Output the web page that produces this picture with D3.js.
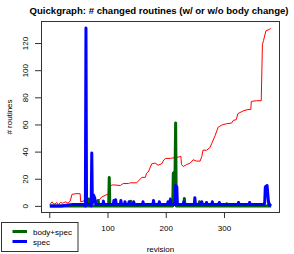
<!DOCTYPE html>
<html>
<head>
<meta charset="utf-8">
<script src="https://cdn.jsdelivr.net/npm/d3@7"></script>
<style>
  html, body { margin: 0; padding: 0; background: #fff; }
  svg { display: block; font-family: "Liberation Sans", Arial, Helvetica, sans-serif; }
</style>
</head>
<body>
<svg id="chart" width="294" height="254"></svg>
<script>
// ---- data ----
const titleText = "Quickgraph: # changed routines (w/ or w/o body change)";
const xLabel = "revision";
const yLabel = "# routines";
const xTicks = [0, 100, 200, 300];
const xTickLabels = ["", "100", "200", "300"]; // "0" is hidden behind the legend in the reference
const yTicks = [0, 20, 40, 60, 80, 100, 120];

// cumulative-like red line
const totalRev = [1, 5, 8, 13, 16, 19, 23, 28, 32, 36, 39, 46, 53, 54, 62, 67, 73, 79, 85, 90, 102, 105, 110, 122, 127, 136, 139, 150, 159, 165, 167, 170, 176, 182, 187, 193, 197, 200, 208, 222, 226, 227, 230, 236, 242, 247, 253, 259, 262, 264, 270, 276, 279, 285, 290, 296, 304, 313, 316, 321, 324, 333, 341, 346, 347, 356, 364, 366, 368, 372, 378, 380];
const totalVal = [1, 3, 1, 2.5, 1, 2.5, 2, 3, 2, 3.5, 8.5, 9, 9, 3, 4, 5.5, 5.5, 4, 4, 6.5, 9, 15, 15.5, 15, 16.5, 16.5, 17, 17, 21, 21, 24, 25, 31, 31.5, 30, 31, 34, 35, 35, 36, 36.5, 30.5, 29, 30.5, 31.5, 34, 33, 33, 36.5, 41, 41, 43, 46, 52, 58, 59.5, 60.5, 61, 63, 63.5, 68, 70, 71, 71, 77, 77.5, 77.5, 119, 122, 129, 130, 131];

// body+spec (green)
const bodyRev = [1, 66, 67, 68, 69, 83, 84, 85, 102, 103, 104, 139, 140, 141, 212, 213, 215, 216, 217, 218, 231, 232, 233, 257, 258, 259, 304, 305, 306, 377, 378, 379, 381];
const bodyVal = [0, 0, 4, 5, 0, 0, 4, 0, 0, 21, 0, 0, 3.5, 0, 0, 24, 25, 25, 61, 0, 0, 5.5, 0, 0, 3, 0, 0, 1.5, 0, 0, 1.5, 0, 0];

// spec (blue)
const specRev = [1, 20, 40, 58, 62, 63, 64, 70, 72, 73, 74, 76, 78, 80, 92, 93, 94, 110, 111, 112, 113, 114, 115, 122, 123, 124, 129, 130, 131, 136, 137, 138, 144, 145, 146, 160, 161, 162, 178, 179, 180, 188, 189, 190, 203, 204, 205, 207, 208, 209, 216, 217, 219, 220, 230, 231, 232, 249, 250, 251, 261, 262, 263, 269, 270, 271, 279, 280, 281, 291, 292, 293, 324, 325, 326, 343, 344, 345, 369, 370, 371, 374, 376, 377, 381];
const specVal = [0, 0, 1, 1, 0, 131, 1, 1, 0, 39, 2, 8, 6, 1, 1, 3.5, 1, 1, 4, 1, 1, 4.5, 1, 1, 4, 1, 1, 3, 1, 1, 3, 1, 1, 3, 1, 1, 3, 1, 1, 4, 1, 1, 3, 1, 1, 3, 1, 1, 5, 1, 1, 15, 14, 1, 1, 3, 1, 1, 6, 1, 1, 3, 1, 1, 2.5, 1, 1, 3, 1, 1, 2.5, 1, 1, 2.5, 1, 1, 2.5, 1, 1, 3, 14, 15, 5, 1, 0];

const legendLabels = ["body+spec", "spec"];
const legendColors = ["#006400", "#0000ff"];

// ---- layout ----
const svg = d3.select("#chart");
const box = { left: 41, right: 280, top: 21, bottom: 213 };

svg.append("rect").attr("width", 294).attr("height", 254).attr("fill", "#fff");

const allRev = totalRev.concat(bodyRev, specRev);
const allVal = totalVal.concat(bodyVal, specVal);
const xMin = d3.min(allRev), xMax = d3.max(allRev);
const yMin = d3.min(allVal), yMax = d3.max(allVal);
const xPad = (xMax - xMin) * 0.04, yPad = (yMax - yMin) * 0.04;

const x = d3.scaleLinear().domain([xMin - xPad, xMax + xPad]).range([box.left, box.right]);
const y = d3.scaleLinear().domain([yMin - yPad, yMax + yPad]).range([box.bottom, box.top]);

const line = d3.line().x(d => x(d[0])).y(d => y(d[1]));

const plot = svg.append("g");
plot.append("path")
  .datum(totalRev.map((r, i) => [r, totalVal[i]]))
  .attr("d", line).attr("fill", "none").attr("stroke", "#ff0000").attr("stroke-width", 1);
plot.append("path")
  .datum(bodyRev.map((r, i) => [r, bodyVal[i]]))
  .attr("d", line).attr("fill", "none").attr("stroke", legendColors[0]).attr("stroke-width", 3)
  .attr("stroke-linejoin", "round");
plot.append("path")
  .datum(specRev.map((r, i) => [r, specVal[i]]))
  .attr("d", line).attr("fill", "none").attr("stroke", legendColors[1]).attr("stroke-width", 3)
  .attr("stroke-linejoin", "round");

// box
svg.append("rect")
  .attr("x", box.left + 0.5).attr("y", box.top + 0.5)
  .attr("width", box.right - box.left - 1).attr("height", box.bottom - box.top - 1)
  .attr("fill", "none").attr("stroke", "#333").attr("stroke-width", 1);

// x axis
const xAxis = svg.append("g")
  .attr("transform", `translate(0,${box.bottom})`)
  .call(d3.axisBottom(x).tickValues(xTicks).tickSize(5).tickPadding(7)
    .tickFormat((d, i) => xTickLabels[i]));
xAxis.select(".domain").remove();
xAxis.selectAll("line").attr("stroke", "#333");
xAxis.selectAll("text").attr("font-size", 8).attr("fill", "#000")
  .attr("font-family", "'Liberation Sans', Arial, sans-serif");

// y axis
const yAxis = svg.append("g")
  .attr("transform", `translate(${box.left},0)`)
  .call(d3.axisLeft(y).tickValues(yTicks).tickSize(6).tickFormat(d3.format("d")));
yAxis.select(".domain").remove();
yAxis.selectAll("line").attr("stroke", "#333");
yAxis.selectAll("text")
  .attr("font-size", 8).attr("fill", "#000")
  .attr("font-family", "'Liberation Sans', Arial, sans-serif")
  .attr("x", null).attr("dy", null)
  .attr("text-anchor", "middle")
  .attr("transform", d => `translate(${27.8 - box.left},0) rotate(-90)`);

// axis titles
svg.append("text").attr("x", (box.left + box.right) / 2).attr("y", 252)
  .attr("text-anchor", "middle").attr("font-size", 8).text(xLabel);
svg.append("text").attr("transform", `translate(12,${(box.top + box.bottom) / 2}) rotate(-90)`)
  .attr("text-anchor", "middle").attr("font-size", 8).text(yLabel);

// title
svg.append("text").attr("x", 159).attr("y", 14)
  .attr("text-anchor", "middle").attr("font-size", 9.6).attr("font-weight", "bold")
  .text(titleText);

// legend
const lg = svg.append("g");
lg.append("rect").attr("x", 1.5).attr("y", 222.5).attr("width", 76.5).attr("height", 29)
  .attr("fill", "#fff").attr("stroke", "#333").attr("stroke-width", 1);
legendLabels.forEach((lab, i) => {
  const yy = 231.5 + i * 10;
  lg.append("line").attr("x1", 12.5).attr("x2", 27).attr("y1", yy).attr("y2", yy)
    .attr("stroke", legendColors[i]).attr("stroke-width", 3);
  lg.append("text").attr("x", 33).attr("y", yy + 3).attr("font-size", 8).text(lab);
});
</script>
</body>
</html>
